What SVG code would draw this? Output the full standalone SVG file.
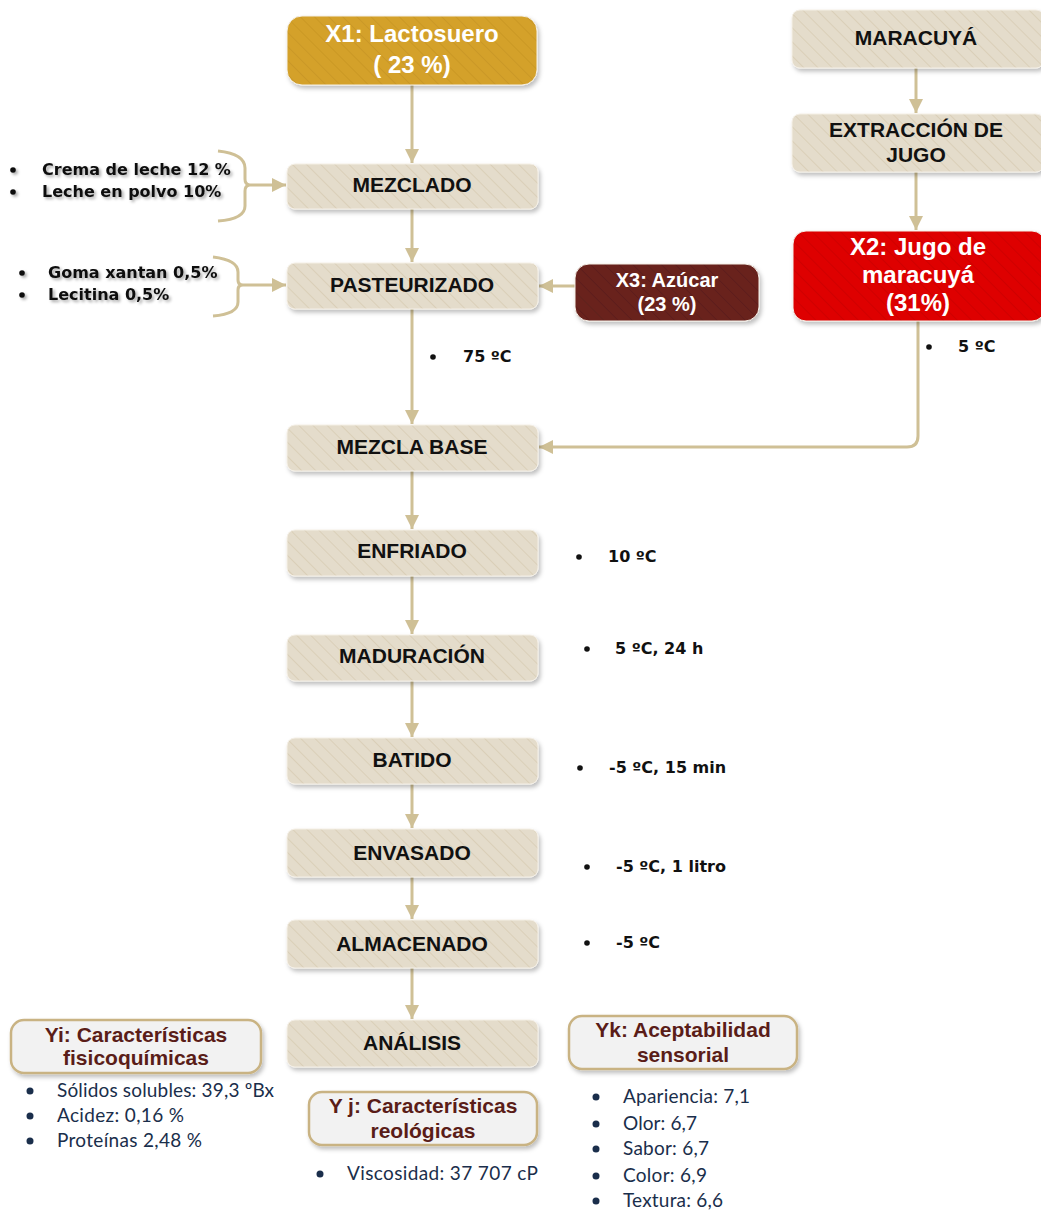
<svg xmlns="http://www.w3.org/2000/svg" width="1041" height="1212" viewBox="0 0 1041 1212">
<defs>
<style>
.box{stroke:#F4EFE6;stroke-width:1;filter:url(#sh)}
.bt{font-family:"Liberation Sans",Arial,sans-serif;font-weight:bold;font-size:21px;fill:#111;text-anchor:middle}
.wt{font-family:"Liberation Sans",Arial,sans-serif;font-weight:bold;fill:#fff;text-anchor:middle}
.yb{fill:#F2F2F2;stroke:#C9B383;stroke-width:2.5;filter:url(#sh)}
.yt{font-family:"Liberation Sans",Arial,sans-serif;font-weight:bold;font-size:21px;fill:#5A1D18;text-anchor:middle}
.ct{font-family:"DejaVu Sans",Verdana,sans-serif;font-weight:bold;font-size:16px;fill:#111}
.lt{font-family:"Lato","Open Sans",sans-serif;font-weight:400;font-size:19px;fill:#1A2E4B}
.sd{filter:url(#ts)}
.cn{fill:none;stroke:#CFC096;stroke-width:3}
.bk{fill:#111}
.nv{fill:#1A2E4B}
</style>
<pattern id="hb" width="10" height="10" patternUnits="userSpaceOnUse" patternTransform="rotate(-45)"><rect width="10" height="10" fill="#E4DCCB"/><line x1="0" y1="0" x2="0" y2="10" stroke="#D5C9AE" stroke-width="1.3"/></pattern>
<pattern id="hg" width="10" height="10" patternUnits="userSpaceOnUse" patternTransform="rotate(-45)"><rect width="10" height="10" fill="#D4A12B"/><line x1="0" y1="0" x2="0" y2="10" stroke="#C59322" stroke-width="1.3"/></pattern>
<pattern id="hr" width="10" height="10" patternUnits="userSpaceOnUse" patternTransform="rotate(-45)"><rect width="10" height="10" fill="#DE0202"/><line x1="0" y1="0" x2="0" y2="10" stroke="#C80000" stroke-width="1.3"/></pattern>
<pattern id="hd" width="10" height="10" patternUnits="userSpaceOnUse" patternTransform="rotate(-45)"><rect width="10" height="10" fill="#69231F"/><line x1="0" y1="0" x2="0" y2="10" stroke="#581A16" stroke-width="1.3"/></pattern>
<filter id="sh" x="-10%" y="-20%" width="130%" height="160%"><feDropShadow dx="2" dy="3" stdDeviation="2" flood-color="#000" flood-opacity="0.25"/></filter>
<filter id="ts" x="-10%" y="-30%" width="130%" height="180%"><feDropShadow dx="2" dy="2" stdDeviation="1.5" flood-color="#000" flood-opacity="0.35"/></filter>
<marker id="ar" markerUnits="userSpaceOnUse" markerWidth="14" markerHeight="14" viewBox="0 0 14 14" refX="14" refY="7" orient="auto"><path d="M0,0 L14,7 L0,14 z" fill="#CFC096"/></marker>
</defs>

<g id="connectors">
<path class="cn" d="M412,85 V163" marker-end="url(#ar)"/>
<path class="cn" d="M412,209 V262" marker-end="url(#ar)"/>
<path class="cn" d="M412,309 V424" marker-end="url(#ar)"/>
<path class="cn" d="M412,471 V529" marker-end="url(#ar)"/>
<path class="cn" d="M412,576 V634" marker-end="url(#ar)"/>
<path class="cn" d="M412,681 V737" marker-end="url(#ar)"/>
<path class="cn" d="M412,784 V828" marker-end="url(#ar)"/>
<path class="cn" d="M412,877 V919" marker-end="url(#ar)"/>
<path class="cn" d="M412,968 V1019" marker-end="url(#ar)"/>
<path class="cn" d="M916,68 V113" marker-end="url(#ar)"/>
<path class="cn" d="M916,172 V230" marker-end="url(#ar)"/>
<path class="cn" d="M918,321 V436 Q918,447 907,447 H539" marker-end="url(#ar)"/>
<path class="cn" d="M575,286 H539" marker-end="url(#ar)"/>
<path class="cn" d="M248,185 H286" marker-end="url(#ar)"/>
<path class="cn" d="M239,285 H286" marker-end="url(#ar)"/>
<path class="cn" d="M218,151 Q245,154 245,168 V179 Q245,184 249,185 Q245,186 245,191 V206 Q245,219 218,221"/>
<path class="cn" d="M213,257 Q238,260 238,272 V280 Q238,284 241,285 Q238,286 238,290 V302 Q238,314 213,316"/>
</g>

<g id="x1"><rect class="box" x="287" y="16" width="250" height="69" rx="15" fill="url(#hg)"/><text class="wt" font-size="24" x="412" y="42">X1: Lactosuero</text><text class="wt" font-size="24" x="412" y="73">( 23 %)</text></g>
<g id="mezclado"><rect class="box" x="287" y="164" width="251" height="45" rx="8" fill="url(#hb)"/><text class="bt" x="412" y="192">MEZCLADO</text></g>
<g id="pasteurizado"><rect class="box" x="287" y="263" width="251" height="46" rx="8" fill="url(#hb)"/><text class="bt" x="412" y="292">PASTEURIZADO</text></g>
<g id="mezclabase"><rect class="box" x="287" y="425" width="251" height="46" rx="8" fill="url(#hb)"/><text class="bt" x="412" y="454">MEZCLA BASE</text></g>
<g id="enfriado"><rect class="box" x="287" y="530" width="251" height="46" rx="8" fill="url(#hb)"/><text class="bt" x="412" y="558">ENFRIADO</text></g>
<g id="maduracion"><rect class="box" x="287" y="635" width="251" height="46" rx="8" fill="url(#hb)"/><text class="bt" x="412" y="663">MADURACIÓN</text></g>
<g id="batido"><rect class="box" x="287" y="738" width="251" height="46" rx="8" fill="url(#hb)"/><text class="bt" x="412" y="767">BATIDO</text></g>
<g id="envasado"><rect class="box" x="287" y="829" width="251" height="48" rx="8" fill="url(#hb)"/><text class="bt" x="412" y="860">ENVASADO</text></g>
<g id="almacenado"><rect class="box" x="287" y="920" width="251" height="48" rx="8" fill="url(#hb)"/><text class="bt" x="412" y="951">ALMACENADO</text></g>
<g id="analisis"><rect class="box" x="287" y="1020" width="251" height="47" rx="8" fill="url(#hb)"/><text class="bt" x="412" y="1050">ANÁLISIS</text></g>
<g id="maracuya"><rect class="box" x="792" y="10" width="252" height="58" rx="8" fill="url(#hb)"/><text class="bt" x="916" y="45">MARACUYÁ</text></g>
<g id="extraccion"><rect class="box" x="792" y="114" width="252" height="58" rx="8" fill="url(#hb)"/><text class="bt" x="916" y="137">EXTRACCIÓN DE</text><text class="bt" x="916" y="162">JUGO</text></g>
<g id="x2"><rect class="box" x="793" y="231" width="252" height="90" rx="13" fill="url(#hr)"/><text class="wt" font-size="24" x="918" y="255">X2: Jugo de</text><text class="wt" font-size="24" x="918" y="283">maracuyá</text><text class="wt" font-size="24" x="918" y="311">(31%)</text></g>
<g id="x3"><rect class="box" x="575" y="264" width="184" height="57" rx="14" fill="url(#hd)"/><text class="wt" font-size="20" x="667" y="287">X3: Azúcar</text><text class="wt" font-size="20" x="667" y="311">(23 %)</text></g>

<g id="ingredientes1" class="sd">
<circle class="bk" cx="13" cy="170" r="2.8"/><text class="ct" x="42" y="175">Crema de leche 12 %</text>
<circle class="bk" cx="13" cy="192" r="2.8"/><text class="ct" x="42" y="197">Leche en polvo 10%</text>
</g>
<g id="ingredientes2" class="sd">
<circle class="bk" cx="22" cy="273" r="2.8"/><text class="ct" x="48" y="278">Goma xantan 0,5%</text>
<circle class="bk" cx="22" cy="295" r="2.8"/><text class="ct" x="48" y="300">Lecitina 0,5%</text>
</g>

<g id="condiciones">
<circle class="bk" cx="433" cy="357" r="2.8"/><text class="ct" x="463" y="362">75 ºC</text>
<circle class="bk" cx="929" cy="347" r="2.8"/><text class="ct" x="958" y="352">5 ºC</text>
<circle class="bk" cx="579" cy="557" r="2.8"/><text class="ct" x="608" y="562">10 ºC</text>
<circle class="bk" cx="587" cy="649" r="2.8"/><text class="ct" x="615" y="654">5 ºC, 24 h</text>
<circle class="bk" cx="580" cy="768" r="2.8"/><text class="ct" x="609" y="773">-5 ºC, 15 min</text>
<circle class="bk" cx="587" cy="867" r="2.8"/><text class="ct" x="616" y="872">-5 ºC, 1 litro</text>
<circle class="bk" cx="587" cy="943" r="2.8"/><text class="ct" x="616" y="948">-5 ºC</text>
</g>

<g id="yi"><rect class="yb" x="11" y="1020" width="250" height="53" rx="13"/><text class="yt" x="136" y="1042">Yi: Características</text><text class="yt" x="136" y="1065">fisicoquímicas</text></g>
<g id="yi-lista">
<circle class="nv" cx="30" cy="1091" r="3.5"/><text class="lt" x="57" y="1097" textLength="217">Sólidos solubles: 39,3 ºBx</text>
<circle class="nv" cx="30" cy="1116" r="3.5"/><text class="lt" x="57" y="1122" textLength="127">Acidez: 0,16 %</text>
<circle class="nv" cx="30" cy="1141" r="3.5"/><text class="lt" x="57" y="1147" textLength="145">Proteínas 2,48 %</text>
</g>
<g id="yj"><rect class="yb" x="309" y="1092" width="228" height="53" rx="13"/><text class="yt" x="423" y="1113">Y j: Características</text><text class="yt" x="423" y="1138">reológicas</text></g>
<g id="yj-lista">
<circle class="nv" cx="320" cy="1174" r="3.5"/><text class="lt" x="347" y="1180" textLength="191">Viscosidad: 37 707 cP</text>
</g>
<g id="yk"><rect class="yb" x="569" y="1016" width="228" height="53" rx="13"/><text class="yt" x="683" y="1037">Yk: Aceptabilidad</text><text class="yt" x="683" y="1062">sensorial</text></g>
<g id="yk-lista">
<circle class="nv" cx="596" cy="1097" r="3.5"/><text class="lt" x="623" y="1103" textLength="127">Apariencia: 7,1</text>
<circle class="nv" cx="596" cy="1124" r="3.5"/><text class="lt" x="623" y="1130" textLength="74">Olor: 6,7</text>
<circle class="nv" cx="596" cy="1149" r="3.5"/><text class="lt" x="623" y="1155" textLength="86">Sabor: 6,7</text>
<circle class="nv" cx="596" cy="1176" r="3.5"/><text class="lt" x="623" y="1182" textLength="84">Color: 6,9</text>
<circle class="nv" cx="596" cy="1201" r="3.5"/><text class="lt" x="623" y="1207" textLength="100">Textura: 6,6</text>
</g>
</svg>
